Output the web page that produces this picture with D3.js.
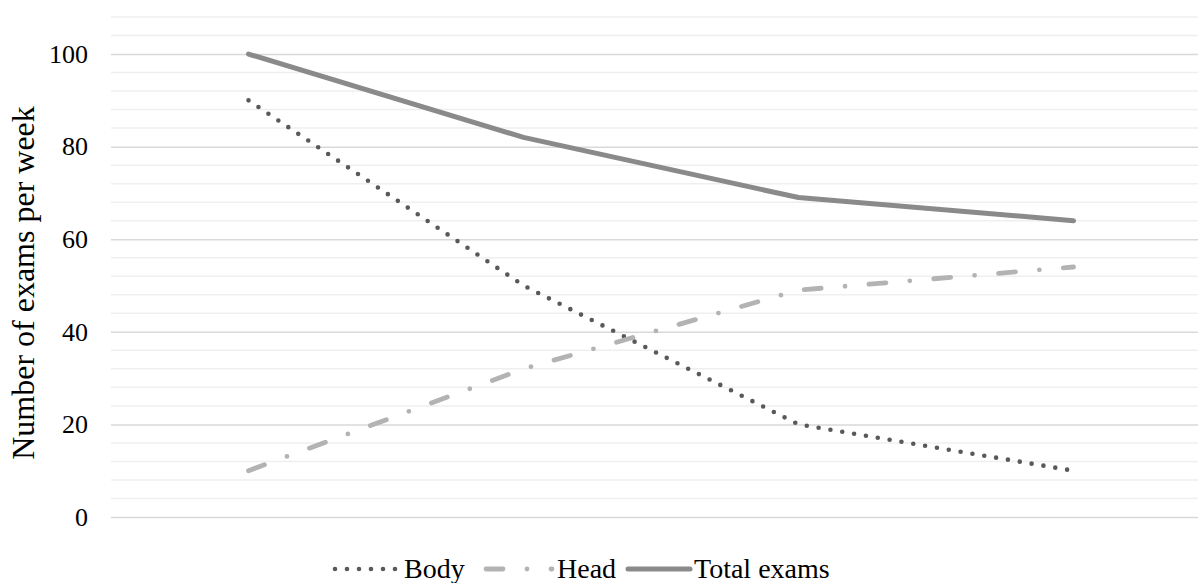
<!DOCTYPE html>
<html>
<head>
<meta charset="utf-8">
<script src="https://cdn.jsdelivr.net/npm/d3@7"></script>
<style>
  html, body { margin: 0; padding: 0; background: #fff; }
  svg { display: block; }
</style>
</head>
<body>
<svg id="chart" width="1198" height="583"></svg>
<script>
// ---- data ----
const categories = ["1", "2", "3", "4"];
const bodyValues = [90, 50, 20, 10];
const headValues = [10, 32, 49, 54];
const totalValues = [100, 82, 69, 64];
const seriesNames = ["Body", "Head", "Total exams"];
const yTickLabels = [0, 20, 40, 60, 80, 100];
const yMinorStep = 4;
const yMax = 108;
const yTitle = "Number of exams per week";

// ---- layout ----
const FONT = "'Liberation Serif', 'Times New Roman', 'DejaVu Serif', serif";
const W = 1198, H = 583;
const plot = { left: 111, right: 1211, top: 17, bottom: 517 };
const svg = d3.select("#chart");

const x = d3.scaleBand().domain(categories).range([plot.left, plot.right]).padding(0);
const xc = d => x(d) + x.bandwidth() / 2;
const y = d3.scaleLinear().domain([0, yMax]).range([plot.bottom, plot.top]);

// minor gridlines
const minorTicks = d3.range(0, yMax + 0.001, yMinorStep).filter(v => !yTickLabels.includes(v));
svg.append("g").selectAll("line").data(minorTicks).join("line")
  .attr("x1", plot.left).attr("x2", W)
  .attr("y1", d => y(d)).attr("y2", d => y(d))
  .attr("stroke", "#efefef").attr("stroke-width", 1.5);

// major gridlines + labels via axis
const yAxis = d3.axisLeft(y).tickValues(yTickLabels).tickSize(0).tickPadding(0);
const ag = svg.append("g").attr("transform", `translate(${plot.left},0)`).call(yAxis);
ag.attr("font-family", FONT).attr("font-size", 26);
ag.select(".domain").remove();
ag.selectAll(".tick line").attr("x2", W - plot.left).attr("stroke", "#d9d9d9").attr("stroke-width", 1.5);
ag.selectAll(".tick text")
  .attr("x", 88 - plot.left).attr("dy", "0.32em")
  .attr("font-family", FONT).attr("font-size", 26).attr("fill", "#000");

// title
svg.append("text")
  .attr("transform", "translate(34,283) rotate(-90)")
  .attr("text-anchor", "middle")
  .attr("font-family", FONT).attr("font-size", 32).attr("fill", "#000")
  .text(yTitle);

// ---- lines ----
const styles = {
  "Body": { color: "#595959", width: 4.6, dash: "0,12", cap: "round" },
  "Head": { color: "#b3b3b3", width: 4.8, dash: "17,24,0,24", cap: "round" },
  "Total exams": { color: "#8a8a8a", width: 5, dash: null, cap: "round" }
};
const seriesData = [bodyValues, headValues, totalValues];
const line = d3.line().x((d, i) => xc(categories[i])).y(d => y(d)).curve(d3.curveLinear);

seriesNames.forEach((name, k) => {
  const s = styles[name];
  svg.append("path")
    .datum(seriesData[k])
    .attr("d", line)
    .attr("fill", "none")
    .attr("stroke", s.color)
    .attr("stroke-width", s.width)
    .attr("stroke-linecap", s.cap)
    .attr("stroke-linejoin", "round")
    .attr("stroke-dasharray", s.dash);
});

// ---- legend ----
const legendPos = [
  { x0: 335, x1: 398, tx: 404 },
  { x0: 486, x1: 552, tx: 557 },
  { x0: 628, x1: 690, tx: 694 }
];
const ly = 569;
seriesNames.forEach((name, k) => {
  const s = styles[name], p = legendPos[k];
  svg.append("line")
    .attr("x1", p.x0).attr("x2", p.x1).attr("y1", ly).attr("y2", ly)
    .attr("stroke", s.color).attr("stroke-width", s.width)
    .attr("stroke-linecap", s.cap).attr("stroke-dasharray", s.dash);
  svg.append("text")
    .attr("x", p.tx).attr("y", 578)
    .attr("font-family", FONT).attr("font-size", 28).attr("fill", "#000")
    .text(name);
});
</script>
</body>
</html>
